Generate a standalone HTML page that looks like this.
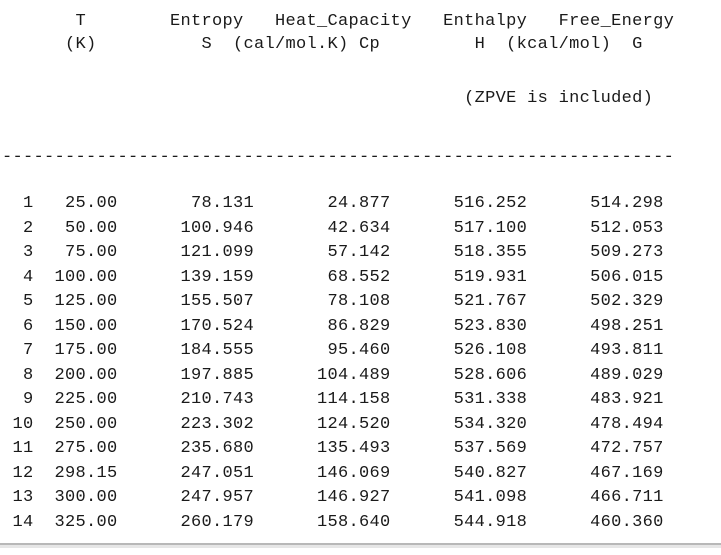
<!DOCTYPE html>
<html><head><meta charset="utf-8"><style>
html,body{margin:0;padding:0;background:#fff;}
body{width:721px;height:555px;position:relative;overflow:hidden;}
.l{position:absolute;left:2px;height:20px;line-height:20px;white-space:pre;font-family:"Liberation Mono",monospace;font-size:17px;letter-spacing:0.3px;color:#1a1a1a;}
.b{position:absolute;left:0;top:543px;width:721px;height:2px;background:#b8b8b8;}
.b2{position:absolute;left:0;top:545px;width:721px;height:3px;background:#e6e6e6;}
</style></head><body>
<div class="l" style="top:12px">       T        Entropy   Heat_Capacity   Enthalpy   Free_Energy</div>
<div class="l" style="top:35px">      (K)          S  (cal/mol.K) Cp         H  (kcal/mol)  G</div>
<div class="l" style="top:89px">                                            (ZPVE is included)</div>
<div class="l" style="top:148px">----------------------------------------------------------------</div>
<div class="l" style="top:194px">  1   25.00       78.131       24.877      516.252      514.298</div>
<div class="l" style="top:218.5px">  2   50.00      100.946       42.634      517.100      512.053</div>
<div class="l" style="top:243px">  3   75.00      121.099       57.142      518.355      509.273</div>
<div class="l" style="top:267.5px">  4  100.00      139.159       68.552      519.931      506.015</div>
<div class="l" style="top:292px">  5  125.00      155.507       78.108      521.767      502.329</div>
<div class="l" style="top:316.5px">  6  150.00      170.524       86.829      523.830      498.251</div>
<div class="l" style="top:341px">  7  175.00      184.555       95.460      526.108      493.811</div>
<div class="l" style="top:365.5px">  8  200.00      197.885      104.489      528.606      489.029</div>
<div class="l" style="top:390px">  9  225.00      210.743      114.158      531.338      483.921</div>
<div class="l" style="top:414.5px"> 10  250.00      223.302      124.520      534.320      478.494</div>
<div class="l" style="top:439px"> 11  275.00      235.680      135.493      537.569      472.757</div>
<div class="l" style="top:463.5px"> 12  298.15      247.051      146.069      540.827      467.169</div>
<div class="l" style="top:488px"> 13  300.00      247.957      146.927      541.098      466.711</div>
<div class="l" style="top:512.5px"> 14  325.00      260.179      158.640      544.918      460.360</div>
<div class="b"></div><div class="b2"></div>
</body></html>
